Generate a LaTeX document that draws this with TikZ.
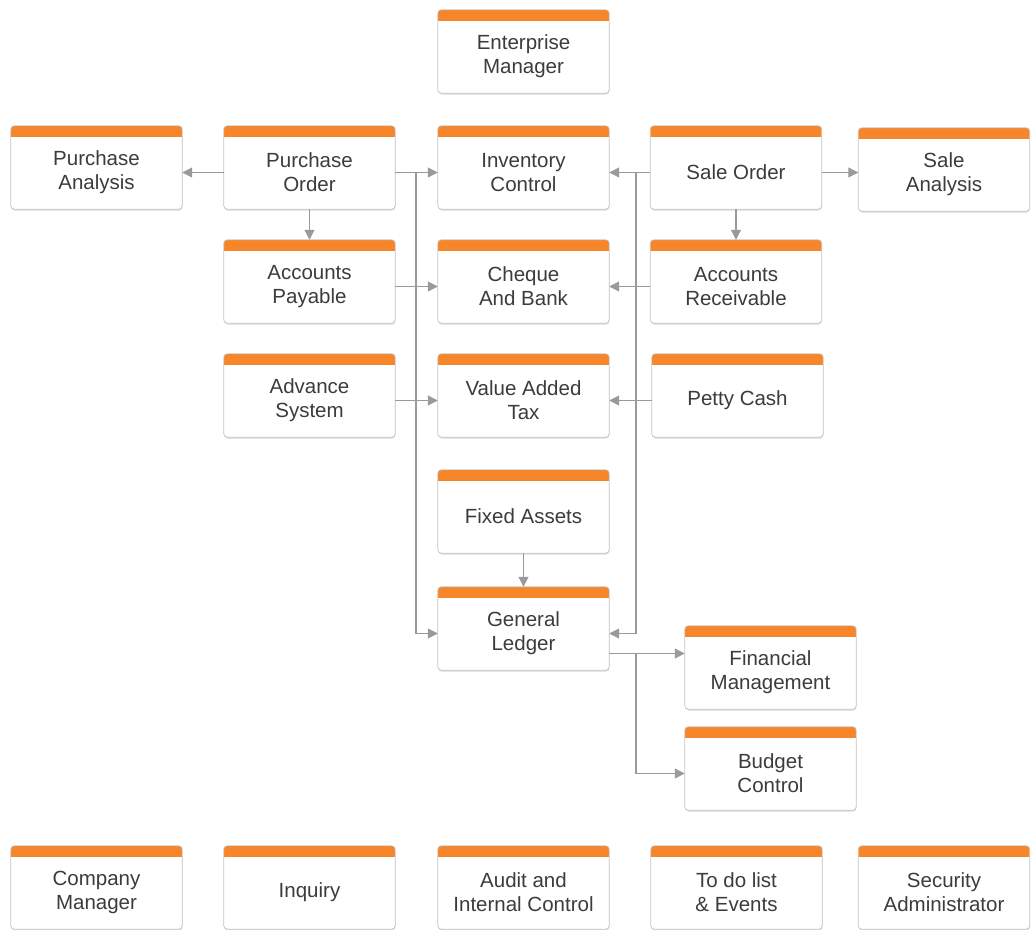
\documentclass[tikz,border=0pt]{standalone}
\usepackage{fontspec}
\setmainfont{Liberation Sans}
\usepackage{tikz}
\usetikzlibrary{arrows.meta, shadows}
\definecolor{baror}{HTML}{F7862A}
\definecolor{edgegray}{HTML}{C4C4C4}
\definecolor{linkgray}{HTML}{9A9A9A}
\definecolor{txtgray}{HTML}{3C3C3C}

\begin{document}
\begin{tikzpicture}[x = 0.03cm, y = -0.03cm,
    module/.style = {fill = white, rounded corners = 3pt, minimum width = 5.13cm, minimum height = 2.19cm,
      align = center, text = txtgray, font = \fontsize{17.5}{20.5}\selectfont,
      drop shadow = {shadow xshift = 0.4pt, shadow yshift = -1.6pt, opacity = 0.2}},
    link/.style = {draw = linkgray, line width = 1pt, -{Triangle[length = 8.5pt, width = 8.5pt]}},
    bus/.style = {draw = linkgray, line width = 1pt}]
  \useasboundingbox (0, 0) rectangle (1031, 930);

  \node[module] (em) at (523.5, 56.5) {Enterprise\\Manager};

  \node[module] (pa) at (96.5, 172.5) {Purchase\\Analysis};
  \node[module] (po) at (309.5, 172.5) {Purchase\\Order};
  \node[module] (ic) at (523.5, 172.5) {Inventory\\Control};
  \node[module] (so) at (736, 172.5) {Sale Order};
  \node[module] (sa) at (944, 174.5) {Sale\\Analysis};

  \node[module] (ap) at (309.5, 286.5) {Accounts\\Payable};
  \node[module] (cb) at (523.5, 286.5) {Cheque\\And Bank};
  \node[module] (ar) at (736, 286.5) {Accounts\\Receivable};

  \node[module] (as) at (309.5, 400.5) {Advance\\System};
  \node[module] (vat) at (523.5, 400.5) {Value Added\\Tax};
  \node[module] (pc) at (737.5, 400.5) {Petty Cash};

  \node[module] (fa) at (523.5, 516.5) {Fixed Assets};
  \node[module] (gl) at (523.5, 633.5) {General\\Ledger};
  \node[module] (fm) at (770.5, 672.5) {Financial\\Management};
  \node[module] (bc) at (770.5, 773.5) {Budget\\Control};

  \node[module] (cm) at (96.5, 892.5) {Company\\Manager};
  \node[module] (iq) at (309.5, 892.5) {Inquiry};
  \node[module] (aic) at (523.5, 892.5) {Audit and\\Internal Control};
  \node[module] (todo) at (736.5, 892.5) {To do list\\\& Events};
  \node[module] (sec) at (944, 892.5) {Security\\Administrator};

  \foreach \n in {em, pa, po, ic, so, sa, ap, cb, ar, as, vat, pc, fa, gl, fm, bc, cm, iq, aic, todo, sec} {
    \begin{scope}
      \clip[rounded corners = 3pt] (\n.south west) rectangle ([yshift = 0.3cm]\n.north east);
      \fill[baror] ([yshift = -0.05cm]\n.north west) rectangle ([yshift = 0.3cm]\n.north east);
    \end{scope}
    \draw[edgegray, line width = 0.6pt, rounded corners = 3pt] (\n.south west) rectangle ([yshift = 0.3cm]\n.north east);
  }

  \coordinate (lbus) at (416, 0);
  \coordinate (rbus) at (636, 0);
  \coordinate (glout) at ([yshift = -0.6cm]gl.east);

  \draw[link] (po.west) -- (pa.east);
  \draw[link] (po.east) -- (ic.west);
  \draw[link] (po.east -| lbus) |- (gl.west);
  \draw[link] (ap.east) -- (cb.west);
  \draw[link] (as.east) -- (vat.west);
  \draw[link] (po.south) -- ([yshift = 0.3cm]ap.north);

  \draw[link] (so.west) -- (ic.east);
  \draw[link] (so.west -| rbus) |- (gl.east);
  \draw[link] (ar.west) -- (cb.east);
  \draw[link] (pc.west) -- (vat.east);
  \draw[link] (so.east) -- (so.east -| sa.west);
  \draw[link] (so.south) -- ([yshift = 0.3cm]ar.north);

  \draw[link] (fa.south) -- ([yshift = 0.3cm]gl.north);
  \draw[link] (glout) -- (glout -| fm.west);
  \draw[bus] (glout -| rbus) -- ++(0, 1);
  \draw[link] (glout -| rbus) |- (bc.west);
\end{tikzpicture}
\end{document}
